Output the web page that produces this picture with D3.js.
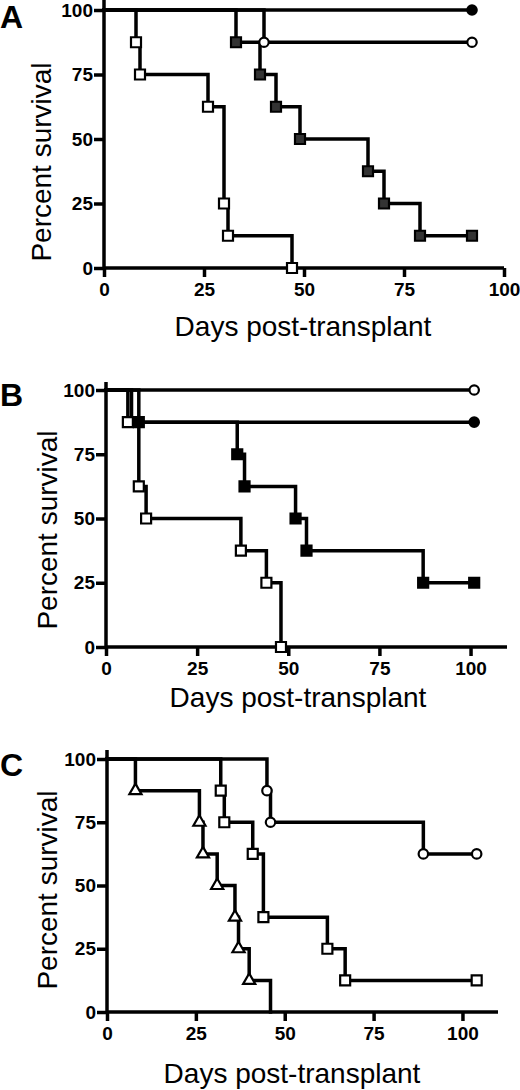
<!DOCTYPE html>
<html>
<head>
<meta charset="utf-8">
<script src="https://cdn.jsdelivr.net/npm/d3@7"></script>
<style>
body{margin:0;background:#fff;}
svg{display:block;}
.axis text{font-family:"Liberation Sans",Arial,sans-serif;font-weight:bold;font-size:19px;fill:#000;}
.axis line,.axis path{stroke:#000;stroke-width:3.5;}
.title{font-family:"Liberation Sans",Arial,sans-serif;font-size:28px;fill:#000;}
.panel-label{font-family:"Liberation Sans",Arial,sans-serif;font-weight:bold;font-size:32px;fill:#000;}
</style>
</head>
<body>
<div id="chart"></div>
<script>
var tickValues = [0, 25, 50, 75, 100];

// panel A
var aFilledCircleDays = [92];
var aFilledCircleSurv = [100];
var aOpenCircleDays = [40, 92];
var aOpenCircleSurv = [87.5, 87.5];
var aFilledSquareDays = [33, 39, 43, 49, 66, 70, 79, 92];
var aFilledSquareSurv = [87.5, 75, 62.5, 50, 37.5, 25, 12.5, 12.5];
var aOpenSquareDays = [8, 9, 26, 30, 31, 47];
var aOpenSquareSurv = [87.5, 75, 62.5, 25, 12.5, 0];

// panel B
var bOpenCircleDays = [101];
var bOpenCircleSurv = [100];
var bFilledCircleDays = [7, 101];
var bFilledCircleSurv = [87.5, 87.5];
var bFilledSquareDays = [9, 36, 38, 52, 55, 87, 101];
var bFilledSquareSurv = [87.5, 75, 62.5, 50, 37.5, 25, 25];
var bOpenSquareDays = [6, 9, 11, 37, 44, 48];
var bOpenSquareSurv = [87.5, 62.5, 50, 37.5, 25, 0];

// panel C
var cOpenCircleDays = [45, 46, 89, 104];
var cOpenCircleSurv = [87.5, 75, 62.5, 62.5];
var cOpenSquareDays = [32, 33, 41, 44, 62, 67, 104];
var cOpenSquareSurv = [87.5, 75, 62.5, 37.5, 25, 12.5, 12.5];
var cTriangleDays = [8, 26, 27, 31, 36, 37, 40, 46];
var cTriangleSurv = [87.5, 75, 62.5, 50, 37.5, 25, 12.5, 0];

var svg = d3.select("#chart").append("svg")
    .attr("width", 520)
    .attr("height", 1090);

function survivalPanel(p, series){
    var xScale = d3.scaleLinear().domain([0, p.xMax]).range([p.x0, p.x1]);
    var yScale = d3.scaleLinear().domain([0, 100]).range([p.y0, p.y100]);

    var g = svg.append("g").attr("class", "panel");

    var xAxis = d3.axisBottom(xScale).tickValues(tickValues).tickSize(9).tickPadding(6).tickFormat(d3.format("d"));
    var yAxis = d3.axisLeft(yScale).tickValues(tickValues).tickSize(10).tickPadding(1).tickFormat(d3.format("d"));

    var gx = g.append("g").attr("class", "axis x-axis")
        .attr("transform", "translate(0," + p.y0 + ")")
        .call(xAxis);
    gx.select(".domain").attr("d", "M" + p.x0 + ",0H" + p.x1);
    gx.selectAll("text").attr("font-family", null).attr("font-size", null);

    var gy = g.append("g").attr("class", "axis y-axis")
        .attr("transform", "translate(" + p.x0 + ",0)")
        .call(yAxis);
    gy.select(".domain").attr("d", "M0," + (p.y0 + 1.5) + "V" + p.yTop);
    gy.selectAll("text").attr("font-family", null).attr("font-size", null);

    var line = d3.line()
        .x(d => xScale(d[0]))
        .y(d => yScale(d[1]))
        .curve(d3.curveStepAfter);

    series.forEach(function(s){
        var pts = [[0, 100]].concat(s.days.map((d, i) => [d, s.surv[i]]));
        g.append("path")
            .attr("d", line(pts))
            .attr("fill", "none")
            .attr("stroke", "#000")
            .attr("stroke-width", 3.5)
            .attr("stroke-linejoin", "miter")
            .attr("stroke-linecap", "square");
    });

    var shapes = {
        square: d3.symbol().type(d3.symbolSquare).size(100),
        circle: d3.symbol().type(d3.symbolCircle).size(70),
        triangle: d3.symbol().type(d3.symbolTriangle).size(64)
    };

    series.forEach(function(s){
        var marks = s.days.map((d, i) => [d, s.surv[i]]);
        if (s.skipLast) marks = marks.slice(0, -1);
        g.selectAll(null).data(marks).enter().append("path")
            .attr("d", shapes[s.shape])
            .attr("transform", d => "translate(" + xScale(d[0]) + "," + yScale(d[1]) + ")")
            .attr("fill", s.fill)
            .attr("stroke", "#000")
            .attr("stroke-width", 2.2);
    });

    g.append("text").attr("class", "title")
        .attr("x", p.xtx).attr("y", p.xty)
        .attr("text-anchor", "middle")
        .text("Days post-transplant");

    g.append("text").attr("class", "title")
        .attr("transform", "translate(" + p.ytx + "," + p.yty + ") rotate(-90)")
        .attr("text-anchor", "middle")
        .text("Percent survival");

    g.append("text").attr("class", "panel-label")
        .attr("x", 0).attr("y", p.labelY)
        .text(p.label);
}

survivalPanel(
    {label: "A", labelY: 28, x0: 104, x1: 504, xMax: 100, y0: 268, y100: 10, yTop: 0,
     xtx: 303, xty: 336, ytx: 51, yty: 162},
    [
        {days: aOpenSquareDays, surv: aOpenSquareSurv, shape: "square", fill: "#fff"},
        {days: aFilledSquareDays, surv: aFilledSquareSurv, shape: "square", fill: "#333"},
        {days: aOpenCircleDays, surv: aOpenCircleSurv, shape: "circle", fill: "#fff"},
        {days: aFilledCircleDays, surv: aFilledCircleSurv, shape: "circle", fill: "#000"}
    ]);

survivalPanel(
    {label: "B", labelY: 406, x0: 106, x1: 507, xMax: 110, y0: 647, y100: 390, yTop: 382,
     xtx: 298, xty: 707, ytx: 57, yty: 530},
    [
        {days: bFilledCircleDays, surv: bFilledCircleSurv, shape: "circle", fill: "#000"},
        {days: bOpenSquareDays, surv: bOpenSquareSurv, shape: "square", fill: "#fff"},
        {days: bFilledSquareDays, surv: bFilledSquareSurv, shape: "square", fill: "#000"},
        {days: bOpenCircleDays, surv: bOpenCircleSurv, shape: "circle", fill: "#fff"}
    ]);

survivalPanel(
    {label: "C", labelY: 776, x0: 107, x1: 498, xMax: 110, y0: 1012, y100: 759, yTop: 750,
     xtx: 292, xty: 1083, ytx: 57, yty: 890},
    [
        {days: cTriangleDays, surv: cTriangleSurv, shape: "triangle", fill: "#fff", skipLast: true},
        {days: cOpenSquareDays, surv: cOpenSquareSurv, shape: "square", fill: "#fff"},
        {days: cOpenCircleDays, surv: cOpenCircleSurv, shape: "circle", fill: "#fff"}
    ]);
</script>
</body>
</html>
